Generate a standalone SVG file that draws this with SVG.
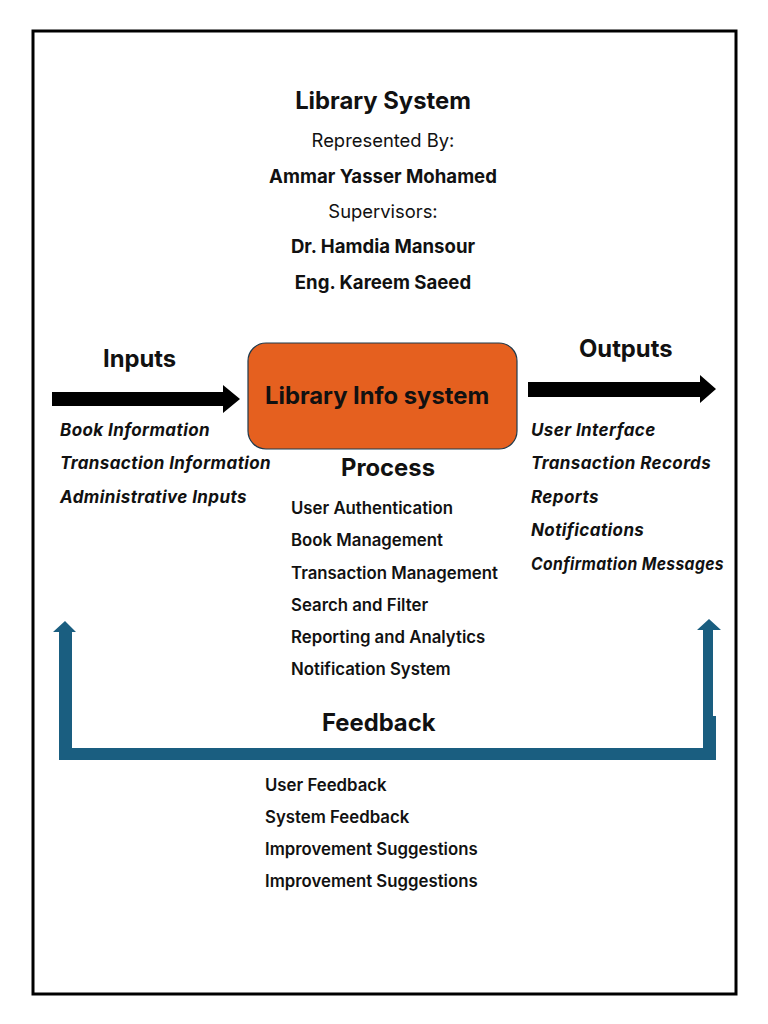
<svg xmlns="http://www.w3.org/2000/svg" width="768" height="1024" viewBox="0 0 768 1024">
<style>
text{font-family:Inter,"Open Sans","Liberation Sans",sans-serif;fill:#111}
.h{font-size:23.8px;font-weight:700}
.c{text-anchor:middle}
.r{font-size:18.4px;font-weight:400}
.b{font-size:18.6px;font-weight:700}
.i{font-size:17px;font-weight:700;font-style:italic;letter-spacing:0.4px}
.l{font-size:16.8px;font-weight:600}
.blk{fill:#000}
.fb{fill:#1a5e80}
</style>
<rect width="768" height="1024" fill="#fff"/>
<rect x="33" y="31" width="703" height="963" fill="none" stroke="#000" stroke-width="3"/>
<g id="title">
<text class="h c" x="383" y="109">Library System</text>
<text class="r c" x="383" y="147">Represented By:</text>
<text class="b c" x="383" y="183">Ammar Yasser Mohamed</text>
<text class="r c" x="383" y="218">Supervisors:</text>
<text class="b c" x="383" y="253">Dr. Hamdia Mansour</text>
<text class="b c" x="383" y="289">Eng. Kareem Saeed</text>
</g>
<g id="connectors">
<polygon class="blk" points="52,392 223,392 223,385 240,399 223,413 223,406 52,406"/>
<polygon class="blk" points="528,382 700,382 700,375 716,389 700,403 700,397 528,397"/>
<polygon class="fb" points="59,760 716,760 716,716 713,716 713,630 721,630 709,619 697,630 703,630 703,748 72,748 72,632 76,632 65,621 53,632 59,632"/>
</g>
<g id="inputs">
<text class="h" x="103" y="367">Inputs</text>
<text class="i" x="60" y="436">Book Information</text>
<text class="i" x="60" y="469">Transaction Information</text>
<text class="i" x="60" y="503">Administrative Inputs</text>
</g>
<g id="system">
<rect x="248" y="343" width="269" height="106" rx="18" fill="#e5601f" stroke="#1f3a4d" stroke-width="1.2"/>
<text class="h" x="265" y="404">Library Info system</text>
</g>
<g id="outputs">
<text class="h" x="579" y="357">Outputs</text>
<text class="i" x="531" y="436">User Interface</text>
<text class="i" x="531" y="469">Transaction Records</text>
<text class="i" x="531" y="503">Reports</text>
<text class="i" x="531" y="536">Notifications</text>
<text class="i" x="531" y="570" textLength="193" lengthAdjust="spacingAndGlyphs">Confirmation Messages</text>
</g>
<g id="process">
<text class="h" x="341" y="476">Process</text>
<text class="l" x="291" y="514">User Authentication</text>
<text class="l" x="291" y="546">Book Management</text>
<text class="l" x="291" y="579">Transaction Management</text>
<text class="l" x="291" y="611">Search and Filter</text>
<text class="l" x="291" y="643">Reporting and Analytics</text>
<text class="l" x="291" y="675">Notification System</text>
</g>
<g id="feedback">
<text class="h" x="322" y="731">Feedback</text>
<text class="l" x="265" y="791">User Feedback</text>
<text class="l" x="265" y="823">System Feedback</text>
<text class="l" x="265" y="855">Improvement Suggestions</text>
<text class="l" x="265" y="887">Improvement Suggestions</text>
</g>
</svg>
